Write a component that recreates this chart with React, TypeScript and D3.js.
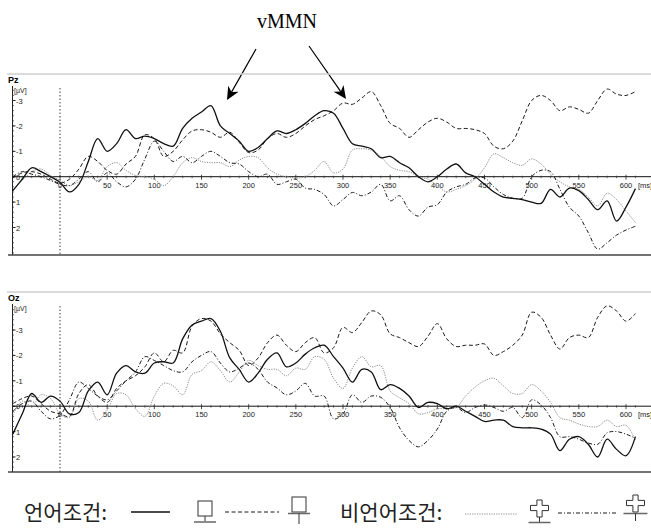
import React from "react";
import * as d3 from "d3";

// sample times (ms), one value every 10 ms
const times = d3.range(-50, 611, 10);

// Pz, values in µV (negative up)
const pzSolid = [
  0.55, 0.1, -0.35, -0.2, 0.0, 0.22, 0.6, 0.3, -0.6, -1.5,
  -1.0, -1.3, -1.85, -1.5, -1.6, -1.5, -1.3, -1.2, -1.9, -2.3,
  -2.55, -2.8, -2.0, -1.7, -1.4, -1.0, -1.15, -1.5, -1.8, -1.7,
  -1.85, -2.1, -2.4, -2.6, -2.5, -1.9, -1.3, -1.2, -1.1, -0.75,
  -0.8, -0.55, -0.35, 0.0, 0.2, 0.0, -0.3, -0.5, -0.15, 0.0,
  0.3, 0.6, 0.8, 0.85, 0.9, 1.0, 1.05, 0.5, 0.8, 0.45,
  0.55, 0.9, 1.3, 0.95, 1.75, 1.2, 0.47,
];
const pzDashed = [
  0.05, -0.15, -0.2, -0.1, 0.1, 0.25, 0.1, -0.3, -0.8, -0.6,
  -0.25, -0.1, -0.5, -0.8, -1.65, -1.5, -0.8, -1.0, -1.45, -1.8,
  -1.85, -1.75, -1.55, -1.75, -1.35, -0.95, -1.05, -1.5, -1.7, -1.55,
  -1.7, -2.0, -2.25, -2.4, -2.6, -2.9, -2.85, -3.1, -3.35, -2.8,
  -2.1, -1.9, -1.55, -1.85, -2.15, -2.3, -2.15, -1.9, -1.9, -1.85,
  -1.7, -1.2, -1.1, -1.4, -2.2, -3.0, -3.2, -3.0, -2.6, -2.75,
  -2.65, -2.5, -3.0, -3.45, -3.25, -3.2, -3.35,
];
const pzDotted = [
  -0.1, 0.1, -0.2, -0.3, -0.05, 0.15, 0.35, 0.2, 0.0, 0.15,
  -0.4, -0.55, -0.25, -0.05, 0.0, 0.1, 0.35, 0.0, -0.55, -0.75,
  -0.6, -0.55, -0.55, -0.4, -0.65, -0.8, -0.75, -0.35, -0.1, 0.0,
  0.05, 0.0, -0.25, -0.6, -0.15, -0.3, -1.05, -1.1, -1.05, -0.8,
  -0.4, -0.25, -0.2, 0.0, 0.1, 0.35, 0.6, 0.5, 0.35, 0.1,
  -0.35, -0.9, -0.75, -0.55, -0.45, -0.7, -0.5, -0.1, 0.2, 0.4,
  0.5, 0.8, 1.15, 0.65, 0.9, 1.35, 1.8,
];
const pzDashDot = [
  0.0, -0.2, -0.1, 0.0, 0.15, 0.3, 0.35, 0.1, -0.2, 0.2,
  -0.15, 0.2, 0.4, 0.1, -0.7, -1.4, -1.0, -0.6, -0.8, -0.55,
  -0.8, -1.0, -0.8, -0.55, -0.5, -0.2, 0.0, -0.1, 0.3, 0.2,
  0.1, 0.45, 0.5, 0.7, 1.15, 0.9, 0.62, 0.75, 0.6, 0.3,
  0.95, 0.75, 1.3, 1.55, 1.2, 1.1, 0.6, 0.4, 0.3, 0.05,
  0.05, 0.4, 0.7, 0.85, 0.85, 0.0, -0.25, -0.2, 0.5, 1.2,
  1.55, 2.2, 2.85, 2.6, 2.3, 2.1, 1.95,
];

// Oz
const ozSolid = [
  1.1, 0.3, -0.5, -0.15, -0.4, -0.2, 0.3, 0.25, -0.6, -0.95,
  -0.45, -1.3, -1.6, -1.35, -1.3, -1.7, -1.75, -1.7, -2.65, -3.2,
  -3.35, -3.45, -2.95, -1.9, -1.45, -0.95, -1.3, -1.85, -2.1, -1.55,
  -1.7, -2.05, -2.3, -2.4, -1.95, -1.5, -0.95, -1.45, -1.35, -0.65,
  -0.85, -0.7, -0.4, 0.05, -0.15, -0.1, 0.1, 0.0, 0.2, 0.4,
  0.6, 0.55, 0.55, 0.8, 0.85, 0.85, 0.9, 1.1, 1.75, 1.3,
  1.2, 1.5, 2.0, 1.3, 1.7, 1.95, 1.2,
];
const ozDashed = [
  -0.1, -0.3, -0.4, -0.1, 0.2, 0.3, 0.4, -0.5, -0.85, -0.4,
  -0.15, -0.7, -1.0, -1.2, -1.55, -2.1, -1.75, -2.2, -2.1, -3.15,
  -3.45, -3.35, -2.85, -2.5, -2.2, -1.6, -1.9, -2.5, -2.8, -2.4,
  -2.15, -2.5, -2.7, -2.1, -2.3, -3.1, -2.9, -3.3, -3.75, -3.6,
  -2.85, -2.7, -2.5, -2.35, -2.75, -3.25, -2.65, -2.35, -2.4, -2.4,
  -2.45, -2.0, -2.15, -2.4, -2.8, -3.7, -3.5, -2.8, -2.25, -2.7,
  -2.8, -2.7, -3.5, -3.95, -3.75, -3.35, -3.65,
];
const ozDotted = [
  0.35, -0.2, 0.0, -0.45, -0.3, 0.3, 0.45, -0.3, -0.2, 0.55,
  0.15, -0.5, -0.45, 0.1, 0.4, -0.4, -0.9, -0.8, -0.45, -1.25,
  -1.4, -1.75, -1.4, -0.95, -1.35, -1.8, -1.6, -1.45, -1.45, -1.2,
  -1.5, -1.45, -1.95, -1.85, -1.1, -0.7, -1.5, -1.95, -1.55, -1.6,
  -0.6, -0.33, -0.1, 0.3, 0.25, 0.1, 0.1, 0.05, -0.4, -0.75,
  -1.0, -1.1, -0.8, -0.5, -0.5, -0.85, -0.6, -0.15, 0.45, 0.55,
  0.7, 0.8, 0.8, 0.55, 0.8, 0.75, 1.35,
];
const ozDashDot = [
  0.2, -0.1, -0.2, 0.2, 0.5, 0.35, -0.25, -0.95, -0.7, -0.4,
  -0.25, -0.6, -1.0, -1.35, -1.95, -1.8, -1.6, -1.4, -1.35, -1.75,
  -2.0, -2.15, -1.7, -1.35, -1.5, -1.7, -1.45, -0.95, -0.72, -0.45,
  -0.6, -0.9, -0.4, -0.4, 0.5, 0.3, -0.45, -0.15, -0.4, -0.35,
  0.05, 0.85, 1.35, 1.6, 1.35, 0.9, 0.2, 0.05, 0.25, 0.05,
  -0.05, 0.05, 0.2, 0.05, 0.45, -0.25, -0.05, 0.45, 1.2, 1.2,
  1.3, 1.45, 1.5, 1.05, 1.0, 1.1, 1.26,
];

const xTickValues = [0, 50, 100, 150, 200, 250, 300, 350, 400, 450, 500, 550, 600];
const yTickValues = [-3, -2, -1, 0, 1, 2];
const legendGroups = ["언어조건:", "비언어조건:"];

const x = d3.scaleLinear().domain([0, 600]).range([60, 626]);

const lineStyles: Record<string, { stroke: string; width: number; dash?: string }> = {
  solid: { stroke: "#111", width: 1.3 },
  dashed: { stroke: "#1a1a1a", width: 1, dash: "4,2.5" },
  dotted: { stroke: "#8c8c8c", width: 1, dash: "1.2,1.2" },
  dashdot: { stroke: "#1a1a1a", width: 1, dash: "4,2,1,2" },
};

const axisFont = "'Liberation Sans', Arial, sans-serif";

type PanelProps = {
  name: string;
  frameTop: number;
  axisTop: number;
  bottom: number;
  y: d3.ScaleLinear<number, number>;
  data: { solid: number[]; dashed: number[]; dotted: number[]; dashdot: number[] };
};

function Panel({ name, frameTop, axisTop, bottom, y, data }: PanelProps) {
  const zero = y(0);
  const line = d3
    .line<number>()
    .x((_, i) => x(times[i]))
    .y((d) => y(d))
    .curve(d3.curveCatmullRom.alpha(0.5));
  const minorY = d3
    .range(-50, 41, 2)
    .map((v) => v / 10)
    .filter((v) => y(v) > axisTop + 2 && y(v) < bottom - 1);
  const minorX = d3.range(-50, 611, 10).filter((t) => t % 50 !== 0);
  const order: (keyof PanelProps["data"])[] = ["dotted", "dashdot", "dashed", "solid"];

  return (
    <g>
      <line x1={7} x2={651} y1={frameTop} y2={frameTop} stroke="#cfcfcf" strokeWidth={1.5} />
      <text x={8} y={frameTop + 9} fontFamily={axisFont} fontWeight="bold" fontSize={9} fill="#000">
        {name}
      </text>
      {/* y axis */}
      <line x1={12.5} x2={12.5} y1={axisTop} y2={bottom} stroke="#222" strokeWidth={1} />
      {minorY.map((v) => (
        <line key={v} x1={12.5} x2={14} y1={y(v)} y2={y(v)} stroke="#444" strokeWidth={0.8} />
      ))}
      {yTickValues.map((v) => (
        <g key={v}>
          <line x1={12.5} x2={15.5} y1={y(v)} y2={y(v)} stroke="#222" strokeWidth={1} />
          <text x={16} y={y(v) + 3} fontFamily={axisFont} fontSize={7.5} fill="#222">
            {v}
          </text>
        </g>
      ))}
      <text x={14} y={axisTop + 7} fontFamily={axisFont} fontSize={7} fill="#222">
        [µV]
      </text>
      {/* stimulus onset */}
      <line x1={x(0)} x2={x(0)} y1={axisTop + 2} y2={bottom} stroke="#444" strokeWidth={1} strokeDasharray="1.5,2" />
      {/* x axis */}
      <line x1={13} x2={651} y1={zero} y2={zero} stroke="#111" strokeWidth={1} />
      {minorX.map((t) => (
        <line key={t} x1={x(t)} x2={x(t)} y1={zero - 1} y2={zero + 1.5} stroke="#333" strokeWidth={0.7} />
      ))}
      {xTickValues.map((t) => (
        <g key={t}>
          <line x1={x(t)} x2={x(t)} y1={zero - 2} y2={zero + 3} stroke="#222" strokeWidth={0.8} />
          <text x={x(t)} y={zero + 11} textAnchor="middle" fontFamily={axisFont} fontSize={7.5} fill="#222">
            {t}
          </text>
        </g>
      ))}
      <text x={638} y={zero + 11} fontFamily={axisFont} fontSize={7.5} fill="#222">
        [ms]
      </text>
      {order.map((k) => (
        <path
          key={k}
          d={line(data[k]) ?? ""}
          fill="none"
          stroke={lineStyles[k].stroke}
          strokeWidth={lineStyles[k].width}
          strokeDasharray={lineStyles[k].dash}
        />
      ))}
      <line x1={8} x2={651} y1={bottom} y2={bottom} stroke="#444" strokeWidth={1.5} />
    </g>
  );
}

function Arrow({ x1, y1, x2, y2 }: { x1: number; y1: number; x2: number; y2: number }) {
  const len = Math.hypot(x2 - x1, y2 - y1);
  const ux = (x2 - x1) / len;
  const uy = (y2 - y1) / len;
  const hl = 13;
  const hw = 6;
  const bx = x2 - ux * hl;
  const by = y2 - uy * hl;
  const nx = x2 - ux * hl * 0.7;
  const ny = y2 - uy * hl * 0.7;
  const pts = [
    [x2, y2],
    [bx - uy * hw, by + ux * hw],
    [nx, ny],
    [bx + uy * hw, by - ux * hw],
  ];
  return (
    <g>
      <line x1={x1} y1={y1} x2={nx} y2={ny} stroke="#000" strokeWidth={1.2} />
      <polygon points={pts.map((p) => p.join(",")).join(" ")} fill="#000" />
    </g>
  );
}

function LegendBox({ cx, top, under }: { cx: number; top: number; under: "base" | "stem" }) {
  // square glyph: box with stem and bar below
  return (
    <g stroke="#333" fill="none" strokeWidth={1}>
      <rect x={cx - 7} y={top} width={14} height={15} />
      {under === "base" ? (
        <>
          <line x1={cx} x2={cx} y1={top + 15} y2={top + 20} />
          <line x1={cx - 11} x2={cx + 11} y1={top + 21} y2={top + 21} stroke="#666" strokeWidth={1.5} />
        </>
      ) : (
        <>
          <line x1={cx - 11} x2={cx + 11} y1={top + 16.5} y2={top + 16.5} stroke="#666" strokeWidth={1.5} />
          <line x1={cx} x2={cx} y1={top + 16.5} y2={top + 27} />
        </>
      )}
    </g>
  );
}

function LegendCross({ cx, top, under }: { cx: number; top: number; under: "base" | "stem" }) {
  const a = 2.6; // half arm width
  const w = 9; // half span
  const h = 17; // cross height
  const m = top + 8; // arm centre
  const d = [
    `M${cx - a},${top}`,
    `H${cx + a}`,
    `V${m - a}`,
    `H${cx + w}`,
    `V${m + a}`,
    `H${cx + a}`,
    `V${top + h}`,
    `H${cx - a}`,
    `V${m + a}`,
    `H${cx - w}`,
    `V${m - a}`,
    `H${cx - a}`,
    "Z",
  ].join(" ");
  return (
    <g stroke="#333" fill="none" strokeWidth={1}>
      <path d={d} />
      {under === "base" ? (
        <>
          <line x1={cx} x2={cx} y1={top + h} y2={top + h + 5} />
          <line x1={cx - 11} x2={cx + 11} y1={top + h + 5.5} y2={top + h + 5.5} stroke="#666" strokeWidth={1.5} />
        </>
      ) : (
        <>
          <line x1={cx - 12} x2={cx + 12} y1={top + h + 1.5} y2={top + h + 1.5} stroke="#666" strokeWidth={1.5} />
          <line x1={cx} x2={cx} y1={top + h + 1.5} y2={top + h + 9} />
        </>
      )}
    </g>
  );
}

export default function App() {
  const yPz = d3.scaleLinear().domain([-3, 2]).range([100.5, 227.5]);
  const yOz = d3.scaleLinear().domain([-3, 2]).range([330, 457]);
  const legendY = 512;
  const korean = "'Noto Sans CJK KR', sans-serif";

  return (
    <svg
      width={651}
      height={530}
      viewBox="0 0 651 530"
      style={{ position: "absolute", left: 0, top: 0, background: "#fff" }}
    >
      <rect width={651} height={530} fill="#fff" />
      <text x={287} y={28} textAnchor="middle" fontFamily="'Liberation Serif', 'Times New Roman', serif" fontSize={20} fill="#000">
        vMMN
      </text>
      <Arrow x1={256} y1={49} x2={227} y2={100} />
      <Arrow x1={309} y1={46} x2={346} y2={99} />

      <Panel
        name="Pz"
        frameTop={74}
        axisTop={86}
        bottom={255}
        y={yPz}
        data={{ solid: pzSolid, dashed: pzDashed, dotted: pzDotted, dashdot: pzDashDot }}
      />
      <Panel
        name="Oz"
        frameTop={292}
        axisTop={304}
        bottom={472}
        y={yOz}
        data={{ solid: ozSolid, dashed: ozDashed, dotted: ozDotted, dashdot: ozDashDot }}
      />

      {/* legend */}
      <text x={24} y={520} fontFamily={korean} fontSize={21} fill="#222">
        {legendGroups[0]}
      </text>
      <line x1={131} x2={170} y1={legendY} y2={legendY} stroke="#111" strokeWidth={1.3} />
      <LegendBox cx={205} top={501} under="base" />
      <line x1={225} x2={279} y1={legendY} y2={legendY} stroke="#1a1a1a" strokeWidth={1} strokeDasharray="4,2.5" />
      <LegendBox cx={299} top={497} under="stem" />
      <text x={340} y={520} fontFamily={korean} fontSize={21} fill="#222">
        {legendGroups[1]}
      </text>
      <line x1={465} x2={517} y1={legendY + 2} y2={legendY + 2} stroke="#8c8c8c" strokeWidth={1} strokeDasharray="1.2,1.2" />
      <LegendCross cx={539.5} top={500} under="base" />
      <line x1={558} x2={618} y1={legendY + 1} y2={legendY + 1} stroke="#1a1a1a" strokeWidth={1} strokeDasharray="4,2,1,2" />
      <LegendCross cx={635.5} top={495} under="stem" />
    </svg>
  );
}
